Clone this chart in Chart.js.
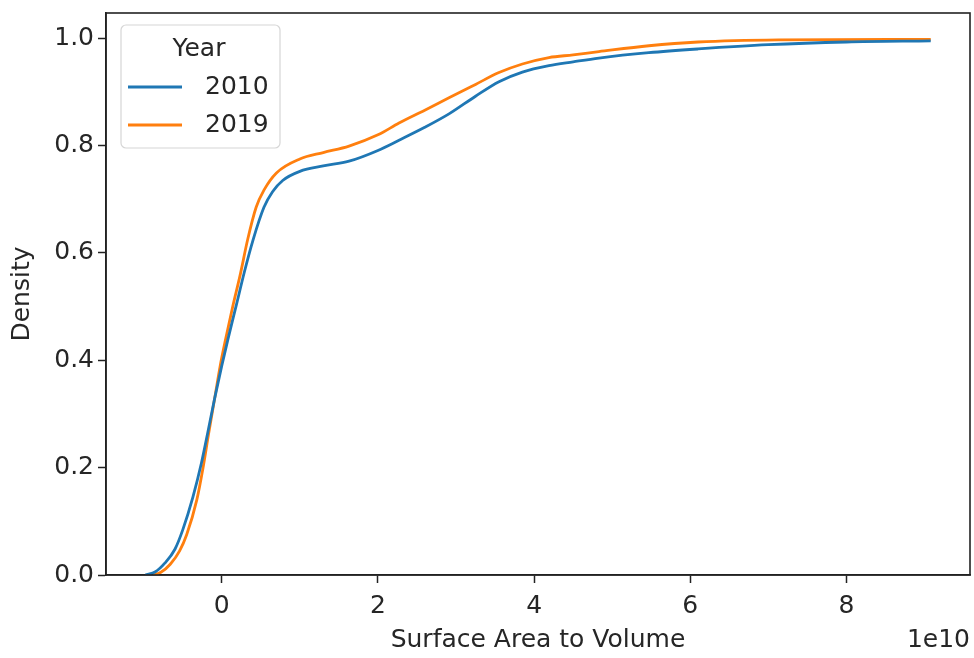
<!DOCTYPE html>
<html>
<head>
<meta charset="utf-8">
<script src="https://cdn.jsdelivr.net/npm/chart.js@4.4.1/dist/chart.umd.min.js"></script>
<style>
html,body{margin:0;padding:0;background:#fff;}
#wrap{width:974px;height:658px;position:relative;}
</style>
</head>
<body>
<div id="wrap"><canvas id="c" width="974" height="658"></canvas></div>
<script>
// ---- data (x in units of 1e10) ----
const seriesNames = ['2010', '2019'];
const x2010 = [-0.98, -0.85, -0.73, -0.6, -0.5, -0.37, -0.26, -0.18, -0.09, 0.0, 0.08, 0.19, 0.29, 0.40, 0.54, 0.65, 0.78, 1.0, 1.3, 1.63, 2.0, 2.27, 2.6, 2.91, 3.25, 3.55, 3.85, 4.19, 4.5, 4.83, 5.47, 6.1, 7.0, 8.0, 9.08];
const d2010 = [0.0, 0.006, 0.022, 0.048, 0.084, 0.145, 0.209, 0.265, 0.33, 0.39, 0.44, 0.505, 0.565, 0.624, 0.685, 0.714, 0.735, 0.752, 0.762, 0.771, 0.791, 0.81, 0.834, 0.859, 0.892, 0.919, 0.937, 0.949, 0.956, 0.963, 0.973, 0.980, 0.988, 0.993, 0.995];
const x2019 = [-0.88, -0.78, -0.66, -0.54, -0.45, -0.32, -0.24, -0.17, -0.09, -0.02, 0.05, 0.14, 0.24, 0.33, 0.44, 0.54, 0.70, 1.0, 1.3, 1.63, 2.0, 2.27, 2.6, 2.91, 3.25, 3.55, 3.85, 4.19, 4.5, 4.83, 5.47, 6.1, 7.13, 9.08];
const d2019 = [0.0, 0.005, 0.02, 0.045, 0.075, 0.14, 0.2, 0.262, 0.33, 0.39, 0.44, 0.50, 0.562, 0.624, 0.685, 0.717, 0.749, 0.775, 0.787, 0.799, 0.82, 0.842, 0.866, 0.889, 0.914, 0.936, 0.952, 0.964, 0.969, 0.975, 0.986, 0.993, 0.997, 0.998];
const xTicks = [0, 2, 4, 6, 8];
const yTicks = [0.0, 0.2, 0.4, 0.6, 0.8, 1.0];
const xTitle = 'Surface Area to Volume';
const yTitle = 'Density';
const xOffsetText = '1e10';
const legendTitle = 'Year';

const FONT = "'DejaVu Sans', sans-serif";
const TXT = '#262626';
const colors = ['#1f77b4', '#ff7f0e'];

function pts(xs, ys){ return xs.map((x,i)=>({x:x, y:ys[i]})); }

const framePlugin = {
  id: 'frame',
  afterDraw(chart){
    const {ctx, chartArea:a} = chart;
    ctx.save();
    ctx.strokeStyle = '#222';
    ctx.lineWidth = 1.6;
    ctx.strokeRect(a.left, a.top, a.right - a.left, a.bottom - a.top);
    // offset text
    ctx.fillStyle = TXT;
    ctx.font = '25px ' + FONT;
    ctx.textAlign = 'right';
    ctx.textBaseline = 'middle';
    ctx.fillText(xOffsetText, a.right, 640);
    // legend
    const lx = 121, ly = 25, lw = 159, lh = 123, r = 5;
    ctx.beginPath();
    ctx.moveTo(lx + r, ly);
    ctx.arcTo(lx + lw, ly, lx + lw, ly + lh, r);
    ctx.arcTo(lx + lw, ly + lh, lx, ly + lh, r);
    ctx.arcTo(lx, ly + lh, lx, ly, r);
    ctx.arcTo(lx, ly, lx + lw, ly, r);
    ctx.closePath();
    ctx.fillStyle = 'rgba(255,255,255,0.85)';
    ctx.fill();
    ctx.strokeStyle = '#d6d6d6';
    ctx.lineWidth = 1.2;
    ctx.stroke();
    ctx.fillStyle = TXT;
    ctx.textAlign = 'center';
    ctx.fillText(legendTitle, 199, 49);
    const rows = [87, 125];
    chart.data.datasets.forEach((ds, i) => {
      ctx.strokeStyle = ds.borderColor;
      ctx.lineWidth = 2.8;
      ctx.beginPath();
      ctx.moveTo(128, rows[i]);
      ctx.lineTo(182, rows[i]);
      ctx.stroke();
      ctx.fillStyle = TXT;
      ctx.textAlign = 'left';
      ctx.fillText(ds.label, 205, rows[i]);
    });
    ctx.restore();
  }
};

new Chart(document.getElementById('c'), {
  type: 'line',
  data: {
    datasets: [
      {label: seriesNames[0], data: pts(x2010, d2010), borderColor: colors[0], backgroundColor: colors[0]},
      {label: seriesNames[1], data: pts(x2019, d2019), borderColor: colors[1], backgroundColor: colors[1]}
    ]
  },
  options: {
    responsive: false,
    animation: false,
    devicePixelRatio: 1,
    layout: {padding: {left: 0, top: 13, right: 4, bottom: 0}},
    elements: {
      point: {radius: 0},
      line: {borderWidth: 2.8, cubicInterpolationMode: 'monotone', fill: false}
    },
    plugins: {legend: {display: false}, tooltip: {enabled: false}},
    scales: {
      x: {
        type: 'linear',
        min: -1.483, max: 9.583,
        afterBuildTicks(s){ s.ticks = xTicks.map(v => ({value: v})); },
        afterFit(s){ s.height = 83; s.paddingLeft = 0; s.paddingRight = 0; },
        grid: {display: true, drawOnChartArea: false, drawTicks: true, tickLength: 8, tickColor: '#222', tickWidth: 1.5},
        border: {display: true, color: '#222', width: 1.6},
        ticks: {color: TXT, font: {family: FONT, size: 25}, padding: 8, maxRotation: 0,
                callback: v => String(v)},
        title: {display: true, text: xTitle, color: TXT, font: {family: FONT, size: 25}, padding: {top: 2, bottom: 3}}
      },
      y: {
        type: 'linear',
        min: 0, max: 1.047,
        afterBuildTicks(s){ s.ticks = yTicks.map(v => ({value: v})); },
        afterFit(s){ s.width = 106; s.paddingTop = 0; s.paddingBottom = 0; },
        grid: {display: true, drawOnChartArea: false, drawTicks: true, tickLength: 8, tickColor: '#222', tickWidth: 1.5},
        border: {display: true, color: '#222', width: 1.6},
        ticks: {color: TXT, font: {family: FONT, size: 25}, padding: 4,
                callback: v => Number(v).toFixed(1)},
        title: {display: true, text: yTitle, color: TXT, font: {family: FONT, size: 25}, padding: {top: 7, bottom: 2}}
      }
    }
  },
  plugins: [framePlugin]
});
</script>
</body>
</html>
